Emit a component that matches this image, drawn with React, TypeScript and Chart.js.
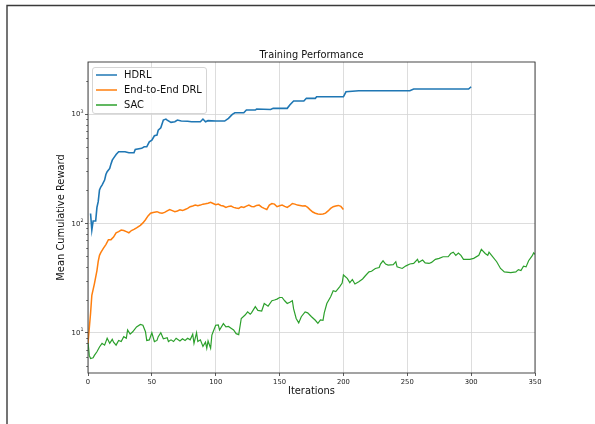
import React, { useEffect, useRef } from "react";
import { Chart, registerables } from "chart.js";
Chart.register(...registerables);

const TITLE = "Training Performance";
const X_TITLE = "Iterations";
const Y_TITLE = "Mean Cumulative Reward";

const hdrlIter = [2, 3, 4, 6, 7, 8, 9, 10, 11, 13, 14, 15, 17, 18, 19, 21, 22, 24, 29, 32, 36, 37, 42, 44, 46, 48, 50, 52, 54, 55, 57, 59, 61, 62, 65, 68, 70, 73, 78, 81, 88, 90, 92, 94, 100, 107, 110, 113, 115, 122, 124, 131, 132, 143, 145, 156, 158, 161, 169, 171, 178, 179, 200, 202, 212, 252, 255, 298, 300];
const hdrlReward = [123, 87, 105, 105, 140, 158, 202, 215, 224, 249, 280, 297, 318, 350, 379, 410, 427, 452, 452, 443, 443, 475, 486, 502, 502, 558, 578, 633, 642, 714, 750, 881, 900, 881, 839, 851, 881, 863, 860, 851, 851, 900, 851, 870, 865, 863, 914, 994, 1028, 1028, 1088, 1088, 1111, 1100, 1128, 1128, 1209, 1315, 1315, 1393, 1393, 1440, 1440, 1599, 1634, 1634, 1694, 1694, 1778];

const e2eIter = [0, 1, 2, 3, 5, 7, 8, 9, 10, 12, 14, 16, 18, 20, 22, 24, 26, 28, 30, 32, 34, 36, 38, 41, 43, 45, 47, 49, 51, 54, 56, 58, 60, 62, 64, 66, 68, 70, 72, 74, 76, 78, 80, 82, 84, 86, 88, 90, 92, 94, 96, 98, 100, 102, 104, 106, 108, 110, 112, 114, 116, 118, 120, 122, 124, 126, 128, 130, 132, 134, 136, 138, 140, 142, 144, 146, 148, 150, 152, 154, 156, 158, 160, 162, 164, 166, 168, 170, 172, 174, 176, 178, 180, 182, 184, 186, 188, 190, 192, 194, 196, 198, 200];
const e2eReward = [8, 11, 15, 22, 28, 37, 45, 51, 54, 59, 64, 71, 71, 75, 82, 84, 87, 86, 84, 82, 86, 88, 91, 96, 101, 108, 117, 124, 126, 128, 125, 124, 126, 130, 134, 131, 128, 130, 133, 131, 134, 137, 142, 144, 147, 145, 147, 150, 151, 153, 156, 152, 148, 150, 146, 144, 140, 143, 144, 140, 138, 137, 142, 140, 144, 147, 143, 142, 146, 147, 141, 137, 134, 147, 152, 150, 142, 145, 147, 143, 140, 145, 152, 150, 147, 146, 144, 145, 140, 133, 127, 124, 122, 121, 122, 124, 130, 137, 142, 144, 146, 143, 134];

const sacIter = [0, 1, 2, 4, 5, 7, 9, 11, 13, 15, 17, 19, 20, 22, 24, 26, 28, 30, 31, 33, 35, 38, 41, 43, 45, 46, 48, 50, 52, 54, 55, 57, 59, 62, 63, 65, 67, 69, 72, 74, 76, 78, 80, 82, 83, 85, 86, 88, 90, 92, 93, 94, 96, 97, 98, 100, 102, 103, 106, 108, 110, 112, 114, 116, 118, 120, 123, 125, 127, 128, 131, 133, 136, 138, 141, 144, 146, 148, 150, 152, 154, 156, 158, 160, 161, 163, 165, 167, 170, 172, 175, 178, 180, 182, 184, 185, 187, 190, 192, 194, 197, 199, 200, 203, 205, 207, 209, 212, 215, 217, 220, 222, 225, 228, 229, 231, 233, 235, 239, 241, 242, 246, 249, 252, 255, 258, 259, 262, 264, 267, 269, 272, 275, 278, 282, 284, 286, 288, 290, 292, 294, 299, 302, 306, 308, 311, 313, 314, 316, 320, 323, 326, 331, 335, 337, 339, 341, 343, 345, 348, 349, 350];
const sacReward = [8.3, 6.2, 5.8, 5.9, 6.2, 6.7, 7.4, 8.0, 7.7, 8.9, 8.0, 8.7, 8.2, 7.7, 8.5, 8.3, 9.2, 8.9, 10.6, 9.7, 10.2, 11.3, 11.9, 11.7, 10.2, 8.5, 8.6, 10.0, 8.3, 8.5, 9.2, 10.0, 8.8, 9.0, 8.3, 8.6, 8.3, 8.9, 8.4, 8.8, 8.5, 8.9, 8.6, 9.7, 8.0, 10.0, 8.3, 8.6, 7.5, 8.2, 7.2, 8.4, 7.2, 9.5, 10.2, 11.7, 11.8, 10.6, 12.1, 11.3, 11.4, 11.0, 10.6, 9.8, 9.6, 13.5, 14.5, 15.5, 14.8, 15.2, 17.3, 16.0, 15.8, 18.5, 17.5, 19.6, 19.9, 20.3, 21.0, 21.0, 19.6, 18.5, 19.0, 19.6, 16.5, 13.5, 12.3, 14.0, 15.5, 15.2, 14.0, 13.0, 12.2, 13.1, 13.0, 15.2, 18.5, 21.3, 24.2, 23.8, 26.3, 28.5, 33.7, 31.4, 28.7, 30.7, 27.9, 29.3, 31.0, 33.0, 36.0, 36.5, 38.7, 39.5, 42.5, 45.5, 42.5, 41.5, 42.0, 44.6, 40.0, 38.7, 40.9, 42.5, 43.0, 46.9, 44.0, 46.2, 43.5, 43.0, 44.0, 46.9, 47.9, 49.5, 49.5, 53.0, 54.5, 51.0, 53.5, 51.0, 46.9, 46.9, 47.9, 51.0, 57.8, 53.0, 51.0, 54.5, 51.0, 44.6, 38.7, 36.0, 35.4, 36.0, 37.8, 37.0, 40.6, 40.0, 45.5, 51.0, 53.8, 52.0];

const seriesLabels = ["HDRL", "End-to-End DRL", "SAC"];
const seriesColors = ["#1f77b4", "#ff7f0e", "#2ca02c"];
const seriesWidths = [1.6, 1.5, 1.2];

const xTicks = [0, 50, 100, 150, 200, 250, 300, 350];
const yMajorTicks = [10, 100, 1000];
const yTickBase = "10";
const yTickExponents: Record<number, string> = { 10: "1", 100: "2", 1000: "3" };
const X_MIN = 0;
const X_MAX = 350;
const Y_MIN = 4.28;
const Y_MAX = 2994;

const FONT = "'DejaVu Sans', sans-serif";

export default function App() {
  const ref = useRef<HTMLCanvasElement>(null);

  useEffect(() => {
    const canvas = ref.current;
    if (!canvas) return;

    const decor = {
      id: "decor",
      beforeDraw(chart: any) {
        const c = chart.ctx;
        c.save();
        c.fillStyle = "#ffffff";
        c.fillRect(0, 0, chart.width, chart.height);
        c.restore();
      },
      afterDatasetsDraw(chart: any) {
        const c = chart.ctx;
        const a = chart.chartArea;
        const ys = chart.scales.y;
        c.save();
        // minor ticks on log axis
        c.strokeStyle = "#333";
        c.lineWidth = 0.7;
        for (const d of [1, 10, 100, 1000]) {
          for (let k = 2; k <= 9; k++) {
            const v = d * k;
            if (v < Y_MIN || v > Y_MAX) continue;
            const py = Math.round(ys.getPixelForValue(v)) + 0.5;
            c.beginPath();
            c.moveTo(a.left - 1.8, py);
            c.lineTo(a.left, py);
            c.stroke();
          }
        }
        // y tick labels with superscript exponents
        c.fillStyle = "#222";
        c.textBaseline = "middle";
        for (const v of yMajorTicks) {
          const py = ys.getPixelForValue(v);
          const exp = yTickExponents[v];
          c.font = `4.8px ${FONT}`;
          c.textAlign = "right";
          const rightEdge = a.left - 4.5;
          c.fillText(exp, rightEdge, py - 2.6);
          const ew = c.measureText(exp).width;
          c.font = `6.8px ${FONT}`;
          c.fillText(yTickBase, rightEdge - ew - 0.2, py + 0.5);
        }
        // frame (spines)
        c.strokeStyle = "#333";
        c.lineWidth = 0.9;
        c.strokeRect(a.left, a.top, a.right - a.left, a.bottom - a.top);
        c.restore();
      },
      afterDraw(chart: any) {
        const c = chart.ctx;
        const a = chart.chartArea;
        const cx = (a.left + a.right) / 2;
        const cy = (a.top + a.bottom) / 2;
        c.save();
        c.fillStyle = "#111";
        c.textAlign = "center";
        c.textBaseline = "middle";
        c.font = `9.8px ${FONT}`;
        c.fillText(TITLE, cx, 55);
        c.font = `9.9px ${FONT}`;
        c.fillText(X_TITLE, cx, 391.5);
        c.save();
        c.translate(61, cy);
        c.rotate(-Math.PI / 2);
        c.fillText(Y_TITLE, 0, 0);
        c.restore();

        // legend
        const lx = 92.5, ly = 67.5, lw = 114, lh = 46;
        c.beginPath();
        if ((c as any).roundRect) (c as any).roundRect(lx, ly, lw, lh, 2.5);
        else c.rect(lx, ly, lw, lh);
        c.fillStyle = "rgba(255,255,255,0.85)";
        c.fill();
        c.strokeStyle = "#d0d0d0";
        c.lineWidth = 0.9;
        c.stroke();
        chart.data.datasets.forEach((ds: any, i: number) => {
          const yy = 75 + i * 15;
          c.strokeStyle = ds.borderColor;
          c.lineWidth = 1.5;
          c.beginPath();
          c.moveTo(96, yy);
          c.lineTo(117, yy);
          c.stroke();
          c.fillStyle = "#111";
          c.textAlign = "left";
          c.font = `9.9px ${FONT}`;
          c.fillText(ds.label, 124, yy + 0.5);
        });

        // figure border
        c.strokeStyle = "#3a3a3a";
        c.lineWidth = 1.4;
        c.beginPath();
        c.moveTo(7, 424);
        c.lineTo(7, 5.5);
        c.lineTo(595, 5.5);
        c.stroke();
        c.restore();
      },
    };

    const iters = [hdrlIter, e2eIter, sacIter];
    const rewards = [hdrlReward, e2eReward, sacReward];

    const chart = new Chart(canvas, {
      type: "line",
      data: {
        datasets: seriesLabels.map((label, i) => ({
          label,
          data: iters[i].map((x, j) => ({ x, y: rewards[i][j] })),
          borderColor: seriesColors[i],
          backgroundColor: seriesColors[i],
          borderWidth: seriesWidths[i],
          pointRadius: 0,
          tension: 0,
          fill: false,
        })),
      },
      options: {
        responsive: false,
        animation: false,
        devicePixelRatio: 1,
        layout: { padding: { top: 62, right: 60, left: 0, bottom: 0 } },
        plugins: {
          legend: { display: false },
          title: { display: false },
          tooltip: { enabled: false },
        },
        scales: {
          x: {
            type: "linear",
            min: X_MIN,
            max: X_MAX,
            afterBuildTicks: (s: any) => {
              s.ticks = xTicks.map((v) => ({ value: v }));
            },
            afterFit: (s: any) => {
              s.height = 51;
            },
            ticks: {
              autoSkip: false,
              maxRotation: 0,
              padding: 2,
              color: "#222",
              font: { family: FONT, size: 6.8 },
              callback: (v: any) => String(v),
            },
            grid: {
              color: "#d4d4d4",
              lineWidth: 0.8,
              drawTicks: true,
              tickLength: 3,
              tickColor: "#333",
              tickWidth: 0.8,
            },
            border: { display: false },
          },
          y: {
            type: "logarithmic",
            min: Y_MIN,
            max: Y_MAX,
            afterBuildTicks: (s: any) => {
              s.ticks = yMajorTicks.map((v) => ({ value: v }));
            },
            afterFit: (s: any) => {
              s.width = 88;
            },
            ticks: {
              autoSkip: false,
              padding: 2,
              color: "#222",
              font: { family: FONT, size: 6.8 },
              callback: () => "",
            },
            grid: {
              color: "#d4d4d4",
              lineWidth: 0.8,
              drawTicks: true,
              tickLength: 3,
              tickColor: "#333",
              tickWidth: 0.8,
            },
            border: { display: false },
          },
        },
      } as any,
      plugins: [decor],
    });

    return () => chart.destroy();
  }, []);

  return (
    <div style={{ position: "absolute", left: 0, top: 0, width: 595, height: 424, background: "#fff" }}>
      <canvas ref={ref} width={595} height={424} style={{ display: "block", width: 595, height: 424 }} />
    </div>
  );
}
